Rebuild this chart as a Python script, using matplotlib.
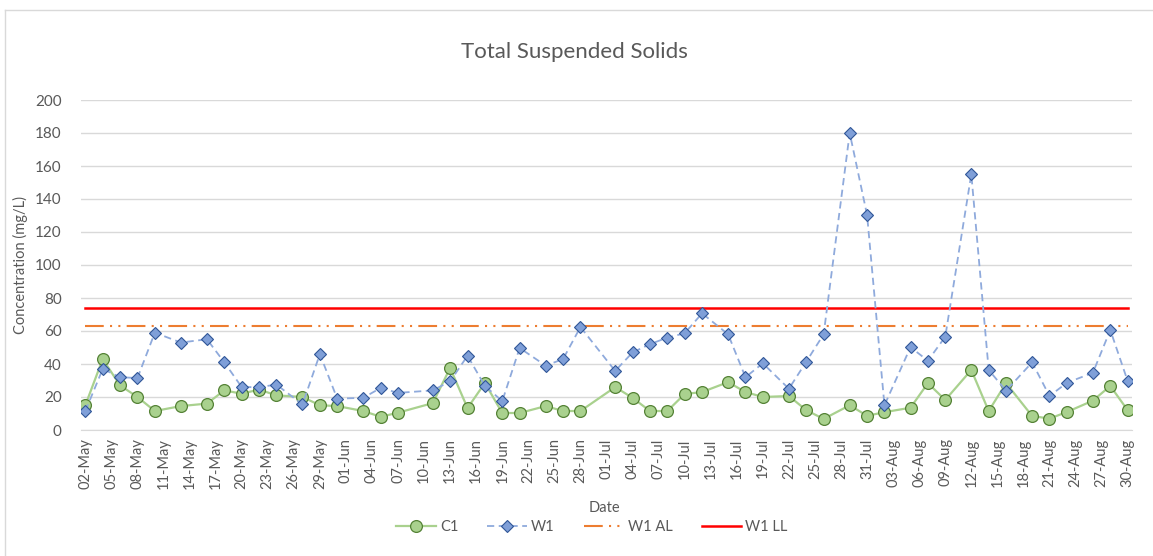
import matplotlib
matplotlib.use("Agg")
import matplotlib.pyplot as plt
import matplotlib.dates as mdates
import pandas as pd
from matplotlib.lines import Line2D

plt.rcParams['font.family'] = ['Lato', 'DejaVu Sans']

dates = ["05-02", "05-04", "05-06", "05-08", "05-10", "05-13", "05-16", "05-18", "05-20", "05-22",
         "05-24", "05-27", "05-29", "05-31", "06-03", "06-05", "06-07", "06-11", "06-13", "06-15",
         "06-17", "06-19", "06-21", "06-24", "06-26", "06-28", "07-02", "07-04", "07-06", "07-08",
         "07-10", "07-12", "07-15", "07-17", "07-19", "07-22", "07-24", "07-26", "07-29", "07-31",
         "08-02", "08-05", "08-07", "08-09", "08-12", "08-14", "08-16", "08-19", "08-21", "08-23",
         "08-26", "08-28", "08-30"]
c1 = [15, 43, 27, 20, 11.5, 14.5, 16, 24, 22, 24.5,
      21, 20, 15, 14.5, 11.5, 8, 10.5, 16.3, 37.6, 13.3,
      28.5, 10.3, 10.3, 14.5, 11.5, 11.5, 26, 19.5, 11.5, 11.5,
      21.8, 23, 29, 23, 20, 20.6, 12, 6.7, 15, 8.6,
      10.8, 13.5, 28.4, 18.2, 36.4, 11.5, 28.4, 8.5, 6.9, 10.9,
      17.8, 26.7, 12]
w1 = [11.5, 37, 32, 31.5, 59, 53, 55, 41, 26, 26,
      27.5, 15.5, 46, 19, 19.5, 25.5, 22.5, 24, 29.5, 45,
      26.7, 17.5, 49.7, 39, 43, 62.4, 35.8, 47, 52, 56,
      58.6, 70.7, 58, 32, 40.4, 25, 41.4, 58, 180, 130.3,
      15, 50.2, 42, 56.5, 155, 36.4, 23.8, 41, 20.6, 28.6,
      34.7, 60.6, 29.7]
w1_al = 63
w1_ll = 74
year = "2019"

x = pd.to_datetime([f"{year}-{d}" for d in dates])
ticks = pd.date_range(f"{year}-05-02", f"{year}-08-30", freq="3D")

W, H = 1153, 556
fig = plt.figure(figsize=(W / 100, H / 100), dpi=100)
ax = fig.add_axes([81 / W, 1 - 430 / H, (1132 - 81) / W, (430 - 100) / H])

txt = '#595959'
grid = '#D9D9D9'

ax.plot(x, c1, color='#A9D18E', lw=1.6, marker='o', ms=8.5, mfc='#A9D18E',
        mec='#548235', mew=0.9, label='C1', zorder=3)
ax.plot(x, w1, color='#8FAADC', lw=1.3, ls=(0, (4, 2.5)), marker='D', ms=6.5,
        mfc='#7F9FD8', mec='#2F5597', mew=0.8, label='W1', zorder=4)
ax.plot([x[0], x[-1]], [w1_al, w1_al], color='#ED7D31', lw=1.5,
        ls=(0, (9, 3, 1, 3, 1, 3)), label='W1 AL', zorder=2)
ax.plot([x[0], x[-1]], [w1_ll, w1_ll], color='#FF0000', lw=1.8, label='W1 LL', zorder=2)

half = pd.Timedelta(hours=12)
ax.set_xlim(x[0] - half, x[-1] + half)
ax.set_ylim(0, 200)
ax.set_yticks(range(0, 201, 20))
ax.set_xticks(ticks)
ax.xaxis.set_major_formatter(mdates.DateFormatter('%d-%b'))
ax.tick_params(axis='x', rotation=90, length=0, pad=6, labelsize=10.5, colors=txt)
ax.tick_params(axis='y', length=0, pad=14, labelsize=11, colors=txt)
ax.grid(axis='y', color=grid, lw=1)
ax.set_axisbelow(True)
for s in ['top', 'right', 'left']:
    ax.spines[s].set_visible(False)
ax.spines['bottom'].set_color(grid)

fig.text(574 / W, 1 - 52 / H, 'Total Suspended Solids', ha='center', va='center',
         fontsize=16, color=txt)
fig.text(20 / W, 1 - 265 / H, 'Concentration (mg/L)', ha='center', va='center',
         rotation=90, fontsize=10.5, color=txt)
fig.text(604 / W, 1 - 508 / H, 'Date', ha='center', va='center', fontsize=10.5, color=txt)

leg = fig.legend(loc='center', bbox_to_anchor=(592 / W, 1 - 527 / H), ncol=4, frameon=False,
                 fontsize=10.5, handlelength=2.7, columnspacing=2.0, handletextpad=0.3)
for t in leg.get_texts():
    t.set_color(txt)

# chart-area border (only top and left edges are visible in the reference)
fig.add_artist(Line2D([4.5 / W, 1.0], [1 - 9.5 / H, 1 - 9.5 / H],
                      transform=fig.transFigure, color='#D9D9D9', lw=1))
fig.add_artist(Line2D([4.5 / W, 4.5 / W], [0.0, 1 - 9.5 / H],
                      transform=fig.transFigure, color='#D9D9D9', lw=1))

fig.savefig('out.png', dpi=100)
